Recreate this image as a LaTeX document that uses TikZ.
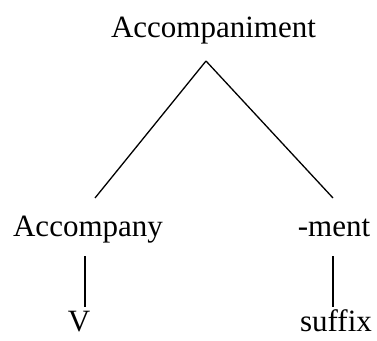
\documentclass[tikz,border=0pt]{standalone}
\usepackage{fontspec}
\setmainfont{Liberation Serif}
\begin{document}
\begin{tikzpicture}[x = 1pt, y = 1pt, word/.style = {anchor = base, inner sep = 0pt, font = \fontsize{31}{36}\selectfont}, branch/.style = {line width = 1.3pt}]
        \useasboundingbox (0, 0) rectangle (377, 340);
        \node[word] (whole) at (213.5, 302) {Accompaniment};
        \node[word] (stem) at (88, 103) {Accompany};
        \node[word] (affix) at (334, 103) {-ment};
        \node[word] (cat) at (79, 9) {V};
        \node[word] (kind) at (336, 9) {suffix};
        \draw[branch] ([shift = {(-7.5, -23)}]whole.base) -- ([shift = {(7, 39)}]stem.base);
        \draw[branch] ([shift = {(-7.5, -23)}]whole.base) -- ([shift = {(-1, 39)}]affix.base);
        \draw[branch] ([shift = {(-3, -19)}]stem.base) -- ([shift = {(6, 24)}]cat.base);
        \draw[branch] ([shift = {(-1, -19)}]affix.base) -- ([shift = {(-3, 24)}]kind.base);
    \end{tikzpicture}
\end{document}
